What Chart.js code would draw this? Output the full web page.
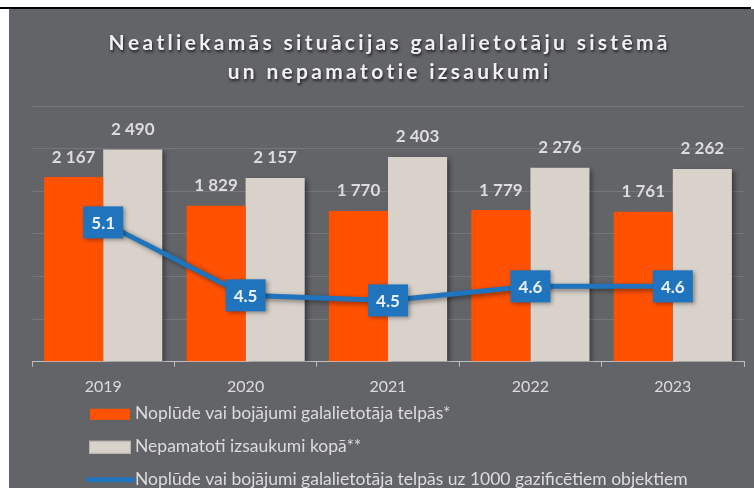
<!DOCTYPE html>
<html>
<head>
<meta charset="utf-8">
<script src="https://cdn.jsdelivr.net/npm/chart.js@4"></script>
<style>
    html, body { margin: 0; padding: 0; background: #fff; }
    #topline { position: absolute; left: 0; top: 7px; width: 751px; height: 2px; background: #000; }
    #wrap { position: absolute; left: 9px; top: 9px; width: 745px; height: 479px; background: #636468; }
</style>
</head>
<body>
<div id="topline"></div>
<div id="wrap"><canvas id="chart"></canvas></div>
<script>
// Data
const years = ["2019", "2020", "2021", "2022", "2023"];
const leaks = [2167, 1829, 1770, 1779, 1761];
const falseCalls = [2490, 2157, 2403, 2276, 2262];
const leaksPer1000 = [5.09, 4.52, 4.48, 4.59, 4.59];
const seriesNames = [
    "Noplūde vai bojājumi galalietotāja telpās*",
    "Nepamatoti izsaukumi kopā**",
    "Noplūde vai bojājumi galalietotāja telpās uz 1000 gazificētiem objektiem"
];
const titleLines = ["Neatliekamās situācijas galalietotāju sistēmā", "un nepamatotie izsaukumi"];

const ORANGE = "#FF5100";
const BEIGE = "#D9D2CB";
const BLUE = "#1F74BD";
const TEXT = "#DCDCDC";

Chart.defaults.font.family = "Lato, 'Open Sans', sans-serif";

// Helper: "2490" -> "2 490"
function fmt(v) {
    return String(v).replace(/\B(?=(\d{3})+(?!\d))/g, " ");
}

// Draw text with letter spacing, centered on x
function spacedText(ctx, text, x, y, spacing) {
    let total = 0;
    const widths = [...text].map(ch => ctx.measureText(ch).width);
    widths.forEach(w => total += w + spacing);
    total -= spacing;
    let cx = x - total / 2;
    [...text].forEach((ch, i) => {
        ctx.fillText(ch, cx, y);
        cx += widths[i] + spacing;
    });
}

// Soft shadow under the beige bars and the line (orange sits next to beige, no shadow there)
const shadowPlugin = {
    id: "shadow",
    beforeDatasetDraw(chart, args) {
        const c = chart.ctx;
        c.save();
        if (args.index !== 0) {
            c.shadowColor = "rgba(0,0,0,0.45)";
            c.shadowBlur = 5;
            c.shadowOffsetX = 3;
            c.shadowOffsetY = 2;
        }
    },
    afterDatasetDraw(chart) {
        chart.ctx.restore();
    }
};

// Value labels
const labelPlugin = {
    id: "valueLabels",
    afterDatasetsDraw(chart) {
        const c = chart.ctx;
        c.save();
        chart.data.datasets.forEach((ds, i) => {
            const meta = chart.getDatasetMeta(i);
            meta.data.forEach((el, j) => {
                const v = ds.data[j];
                c.textAlign = "center";
                c.textBaseline = "middle";
                if (ds.type === "line") {
                    c.save();
                    c.shadowColor = "rgba(0,0,0,0.35)";
                    c.shadowBlur = 4;
                    c.shadowOffsetX = 2;
                    c.shadowOffsetY = 2;
                    c.fillStyle = BLUE;
                    c.fillRect(el.x - 20, el.y - 16, 40, 32);
                    c.restore();
                    c.fillStyle = "#EEF2F6";
                    c.font = "bold 17px Lato";
                    c.fillText(v.toFixed(1), el.x, el.y + 1);
                } else {
                    c.fillStyle = TEXT;
                    c.font = "bold 17px Lato";
                    c.fillText(fmt(v), el.x, el.y - 20);
                }
            });
        });
        c.restore();
    }
};

// Title and vertical legend
const decorPlugin = {
    id: "decor",
    afterDraw(chart) {
        const c = chart.ctx;
        const area = chart.chartArea;
        const mid = (area.left + area.right) / 2;
        c.save();
        c.font = "bold 21px Lato";
        c.textBaseline = "middle";
        c.textAlign = "left";
        c.fillStyle = "#F0F0F0";
        c.shadowColor = "rgba(0,0,0,0.7)";
        c.shadowBlur = 3;
        c.shadowOffsetX = 1;
        c.shadowOffsetY = 2;
        spacedText(c, titleLines[0], mid, 34, 3.3);
        spacedText(c, titleLines[1], mid, 63, 3.3);
        c.restore();

        c.save();
        const x0 = area.left + 58;
        const rows = [area.bottom + 52, area.bottom + 85, area.bottom + 118];
        chart.data.datasets.forEach((ds, i) => {
            const y = rows[i];
            if (ds.type === "line") {
                c.strokeStyle = ds.borderColor;
                c.lineWidth = 5;
                c.lineCap = "round";
                c.beginPath();
                c.moveTo(x0 - 1, y);
                c.lineTo(x0 + 43, y);
                c.stroke();
            } else if (i === 0) {
                c.fillStyle = ds.backgroundColor;
                c.fillRect(x0, y - 5, 40, 11);
            } else {
                c.fillStyle = ds.backgroundColor;
                c.fillRect(x0 - 1, y - 6, 42, 13);
                c.strokeStyle = "#B9B3AE";
                c.lineWidth = 1;
                c.strokeRect(x0 - 0.5, y - 5.5, 41, 12);
            }
            c.fillStyle = TEXT;
            c.font = "17.5px Lato";
            c.textAlign = "left";
            c.textBaseline = "middle";
            c.fillText(ds.label, x0 + 45, y);
        });
        c.restore();
    }
};

const ctx = document.getElementById("chart").getContext("2d");
const chart = new Chart(ctx, {
    type: "bar",
    data: {
        labels: years,
        datasets: [
            {
                label: seriesNames[0],
                data: leaks,
                backgroundColor: ORANGE,
                borderWidth: 0,
                yAxisID: "y",
                order: 1
            },
            {
                label: seriesNames[1],
                data: falseCalls,
                backgroundColor: BEIGE,
                borderWidth: 0,
                yAxisID: "y",
                order: 1
            },
            {
                type: "line",
                label: seriesNames[2],
                data: leaksPer1000,
                borderColor: BLUE,
                backgroundColor: BLUE,
                borderWidth: 5,
                pointRadius: 0,
                tension: 0,
                yAxisID: "y1",
                order: 0
            }
        ]
    },
    options: {
        responsive: true,
        maintainAspectRatio: false,
        animation: false,
        layout: { padding: { top: 97, left: 23, right: 10, bottom: 82 } },
        datasets: { bar: { barPercentage: 1, categoryPercentage: 0.83 } },
        scales: {
            x: {
                grid: { display: true, drawOnChartArea: false, drawTicks: true, tickLength: 5, color: "#BFBFBF", offset: true },
                border: { display: true, color: "#BFBFBF", width: 1 },
                ticks: { color: TEXT, font: { size: 16 }, padding: 10 }
            },
            y: {
                min: 0, max: 3000,
                ticks: { display: false, stepSize: 500 },
                grid: { color: "#76777B", drawTicks: false },
                border: { display: false }
            },
            y1: {
                display: false,
                min: 4, max: 6
            }
        },
        plugins: {
            legend: { display: false },
            title: { display: false },
            tooltip: { enabled: false }
        }
    },
    plugins: [shadowPlugin, labelPlugin, decorPlugin]
});
</script>
</body>
</html>
